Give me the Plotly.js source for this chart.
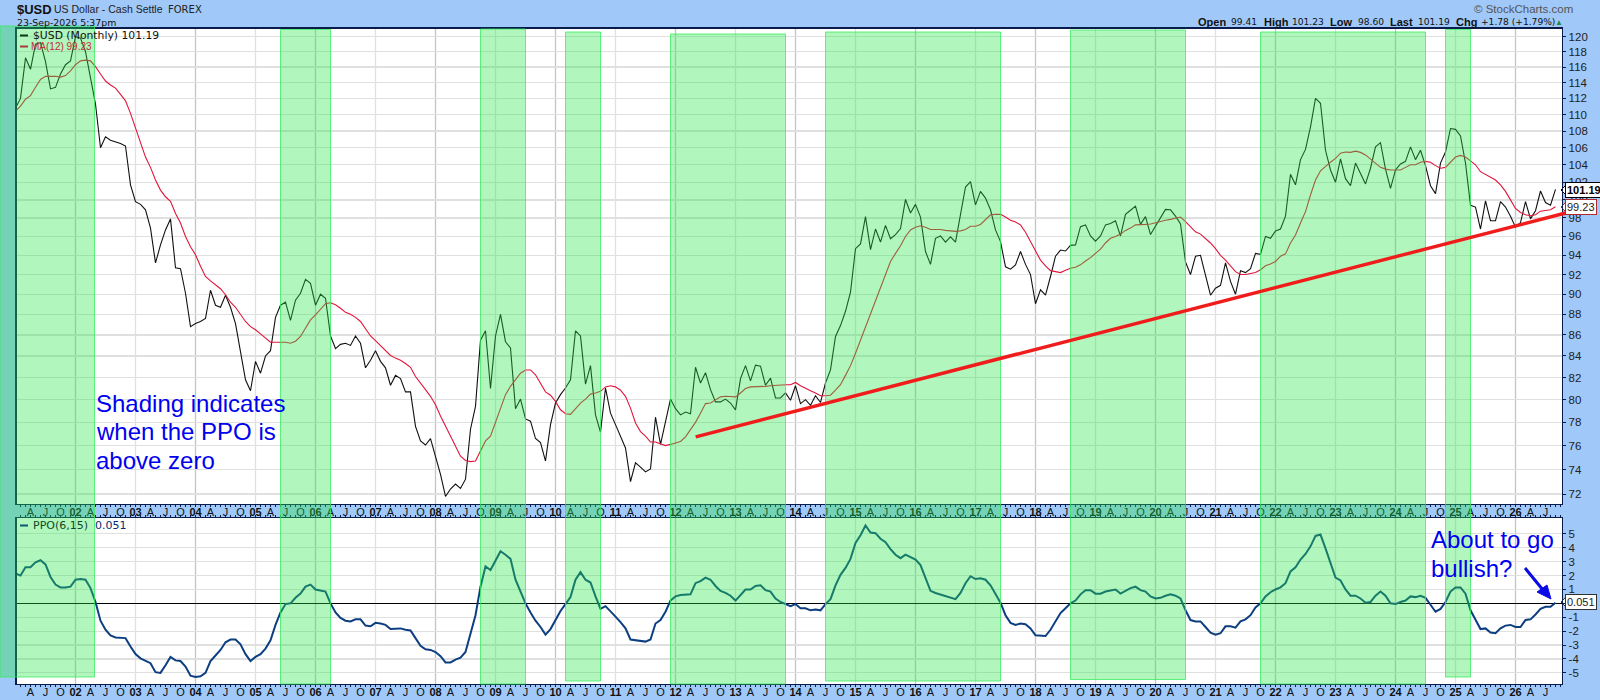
<!DOCTYPE html>
<html>
<head>
<meta charset="utf-8">
<script src="https://cdn.plot.ly/plotly-3.0.1.min.js"></script>
<style>html,body{margin:0;padding:0;background:#a0c8f8}</style>
</head>
<body>
<div id="chart" style="width:1600px;height:700px"></div>
<script>
// monthly closes, Jan 2001 to Sep 2026, one row per year
const usdClose = [
  110.8,112.0,117.2,115.7,119.0,119.2,116.7,113.2,113.4,115.1,116.3,116.8,
  120.0,119.8,118.0,114.7,111.3,106.0,107.3,106.9,106.7,106.5,106.2,101.7,
  99.8,99.5,98.9,96.9,93.2,95.1,96.7,97.9,92.7,92.6,90.1,86.8,
  87.1,87.3,87.6,90.4,88.9,88.7,89.9,88.7,87.1,84.3,81.8,80.8,
  83.5,82.4,84.0,84.5,87.7,88.9,89.2,87.4,89.4,90.1,91.5,91.1,
  88.9,90.0,89.6,85.9,84.7,85.1,85.2,85.0,85.9,85.2,82.9,83.6,
  84.5,83.5,82.9,81.3,82.2,81.9,80.7,80.7,77.65,76.4,76.05,76.6,
  75.1,73.6,71.8,72.4,72.8,72.45,73.2,77.4,79.4,85.5,86.4,81.0,
  85.9,88.0,85.35,84.75,79.2,80.05,78.3,78.1,76.6,76.25,74.7,77.8,
  79.7,80.45,81.05,81.8,86.4,85.9,81.4,83.1,78.65,77.15,81.05,78.8,
  77.8,76.8,75.8,73.0,74.55,74.2,73.8,74.05,78.45,76.1,78.1,80.05,
  79.2,78.65,78.9,78.75,82.95,81.5,82.45,80.9,79.8,79.8,80.05,79.7,
  79.1,81.9,83.1,81.7,83.15,83.05,81.3,81.95,80.15,80.15,80.6,79.95,
  81.25,79.65,80.0,79.5,80.35,79.75,81.5,82.7,85.85,86.9,88.3,90.2,
  94.7,95.2,98.15,94.6,96.8,95.4,97.2,95.75,96.2,96.85,100.05,98.55,
  99.5,98.1,94.4,93.05,95.8,96.05,95.4,95.95,95.4,98.4,101.45,102.05,
  99.45,100.95,100.2,98.9,96.7,95.45,92.8,92.55,93.0,94.4,93.05,92.0,
  89.05,90.45,89.9,91.8,93.9,94.55,94.45,95.05,95.1,97.05,97.25,96.05,
  95.5,96.05,97.25,97.4,97.7,96.05,98.4,98.85,99.3,97.3,98.15,96.2,
  97.1,97.9,98.95,98.9,98.2,97.35,93.3,92.0,93.9,94.0,91.9,89.9,
  90.6,90.9,93.2,91.3,90.0,92.4,92.2,92.6,94.2,94.1,96.0,95.8,
  96.6,96.8,98.2,102.9,101.7,104.6,105.8,108.5,112.0,111.4,105.7,103.4,
  102.0,104.7,102.4,101.6,104.2,102.9,101.8,103.6,106.1,106.6,103.5,101.3,
  103.4,104.1,104.4,106.1,104.6,105.7,103.9,101.6,100.7,104.2,105.5,108.3,
  108.2,107.4,104.2,99.4,99.2,96.8,99.9,97.7,97.7,99.8,99.2,98.2,
  97.0,97.5,99.8,97.9,98.8,101.0,99.7,99.4,101.19
];

const ma12 = [
  110.45,111.05,111.9,112.35,113.4,114.4,114.8,114.8,114.8,114.7,114.9,115.5,
  116.3,116.8,116.9,116.8,116.05,115.1,114.2,113.7,113.3,112.5,111.7,110.15,
  108.3,106.6,104.9,103.7,102.25,101.1,100.35,99.85,98.5,97.45,96.0,94.9,
  94.05,92.85,91.8,91.35,90.95,90.55,89.95,89.2,88.7,87.95,87.3,86.8,
  86.5,86.1,85.7,85.3,85.3,85.3,85.3,85.2,85.4,85.85,86.65,87.45,
  87.95,88.5,89.05,89.15,88.95,88.6,88.2,88.0,87.7,87.3,86.65,85.9,
  85.45,85.0,84.5,84.05,83.8,83.6,83.3,82.95,82.1,81.45,80.9,80.3,
  79.55,78.55,77.65,76.8,75.95,75.1,74.75,74.65,74.7,75.5,76.4,76.8,
  77.95,79.25,80.45,81.2,81.8,82.4,82.7,82.7,82.25,81.45,80.7,80.4,
  79.85,79.1,78.75,78.7,79.2,79.7,80.05,80.5,80.6,80.75,81.15,81.25,
  81.15,80.85,80.3,79.25,77.95,77.2,76.8,76.3,76.3,76.15,76.0,76.1,
  76.25,76.35,76.75,77.4,78.0,78.8,79.65,79.7,79.95,80.25,80.3,80.25,
  80.25,80.6,81.0,81.15,81.15,81.2,81.2,81.25,81.3,81.35,81.35,81.35,
  81.55,81.25,81.0,80.8,80.6,80.35,80.35,80.4,80.85,81.35,82.2,83.1,
  84.25,85.5,86.8,88.05,89.45,90.8,92.15,93.35,94.2,95.0,96.0,96.7,
  97.0,97.15,97.0,96.75,96.75,96.75,96.65,96.6,96.55,96.6,96.75,97.1,
  97.1,97.3,97.85,98.35,98.4,98.4,98.1,97.75,97.55,97.25,96.45,95.45,
  94.4,93.5,92.9,92.4,92.3,92.2,92.45,92.65,92.75,93.0,93.4,93.75,
  94.2,94.65,95.3,95.8,96.0,96.25,96.65,96.9,97.25,97.25,97.3,97.35,
  97.5,97.65,97.75,97.85,98.0,98.1,97.6,97.0,96.5,96.25,95.8,95.3,
  94.7,94.0,93.5,92.9,92.3,92.0,92.0,92.1,92.2,92.5,92.9,93.1,
  93.35,93.9,94.15,95.3,96.15,97.45,98.7,100.55,102.25,103.3,103.85,104.3,
  104.75,105.35,105.5,105.45,105.6,105.45,105.15,104.7,104.2,103.7,103.5,103.4,
  103.4,103.4,103.7,104.0,104.0,104.3,104.4,104.3,103.9,103.6,103.7,104.25,
  104.9,105.1,104.9,104.45,104.0,103.2,102.85,102.5,102.25,101.7,100.95,100.0,
  99.05,98.6,98.35,98.25,98.35,98.75,98.8,98.9,99.23
];

const ppo = [
  2.16,2.0,2.6,2.6,2.95,3.1,2.8,1.9,1.35,1.15,1.15,1.2,
  1.7,1.75,1.7,1.1,0.1,-1.25,-1.9,-2.3,-2.45,-2.5,-2.5,-3.1,
  -3.65,-3.95,-4.1,-4.3,-4.95,-5.0,-4.45,-3.85,-4.1,-4.15,-4.55,-5.2,
  -5.3,-5.25,-5.0,-4.15,-3.75,-3.35,-2.8,-2.6,-2.6,-2.95,-3.65,-4.15,
  -3.85,-3.65,-3.25,-2.65,-1.55,-0.65,-0.05,0,0.4,0.7,1.2,1.35,
  1.0,0.95,0.85,0,-0.65,-1.05,-1.25,-1.3,-1.15,-1.15,-1.6,-1.65,
  -1.4,-1.45,-1.55,-1.85,-1.85,-1.8,-1.9,-1.95,-2.5,-3.05,-3.3,-3.35,
  -3.5,-3.8,-4.25,-4.25,-4.05,-3.9,-3.5,-2.15,-0.85,1.2,2.65,2.4,
  3.05,3.75,3.5,3.2,1.7,0.9,0,-0.65,-1.25,-1.7,-2.25,-1.85,
  -1.2,-0.55,-0.05,0.45,1.7,2.25,1.7,1.5,0.5,-0.4,-0.2,-0.55,
  -0.95,-1.35,-1.8,-2.6,-2.65,-2.65,-2.75,-2.6,-1.45,-1.2,-0.6,0.2,
  0.5,0.6,0.65,0.65,1.45,1.6,1.85,1.7,1.25,0.9,0.75,0.55,
  0.2,0.6,1.0,1.0,1.25,1.3,0.95,0.85,0.35,0.1,-0.05,-0.2,
  -0.05,-0.35,-0.35,-0.5,-0.45,-0.5,-0.05,0.3,1.3,2.05,2.55,3.2,
  4.35,4.9,5.6,5.1,5.05,4.65,4.4,3.9,3.5,3.25,3.5,3.3,
  3.15,2.75,1.85,0.9,0.75,0.65,0.55,0.45,0.3,0.75,1.45,1.95,
  1.75,1.8,1.7,1.3,0.65,0.05,-0.85,-1.4,-1.55,-1.45,-1.5,-1.8,
  -2.3,-2.3,-2.35,-1.9,-1.25,-0.7,-0.35,0,0.2,0.65,0.95,0.95,
  0.7,0.7,0.85,0.95,1.0,0.7,0.9,1.1,1.2,0.95,0.85,0.5,
  0.35,0.4,0.55,0.65,0.55,0.35,-0.5,-1.2,-1.3,-1.3,-1.7,-2.1,
  -2.25,-2.15,-1.65,-1.65,-1.75,-1.3,-1.15,-0.85,-0.3,0,0.5,0.8,
  1.0,1.15,1.45,2.3,2.6,3.15,3.55,4.1,4.85,4.95,3.95,2.9,
  1.85,1.65,1.0,0.55,0.55,0.35,0.05,0.1,0.55,0.85,0.55,0,
  -0.05,0.1,0.2,0.5,0.45,0.55,0.4,-0.1,-0.6,-0.4,0.1,0.85,
  1.15,1.15,0.7,-0.5,-1.2,-1.85,-1.8,-2.1,-2.15,-1.8,-1.6,-1.55,
  -1.7,-1.7,-1.2,-1.15,-0.8,-0.4,-0.25,-0.25,0.051
];

// months since Jan 2001 where the PPO shading starts and stops
const shadeStart = [53, 93, 110, 131, 162, 211, 249, 286];
const shadeEnd   = [63, 102, 117, 154, 197, 234, 282, 291];
const trendValues = [76.75, 99.1];
const usdTicks = [120,118,116,114,112,110,108,106,104,102,100,98,96,94,92,90,88,86,84,82,80,78,76,74,72];
const ppoTicks = [5,4,3,2,1,-1,-2,-3,-4,-5];

const months = usdClose.map((v, i) => i);
const px = x => x / 1600;
const py = y => 1 - y / 700;
const navy = '#0a1c4c';
const shadeFill = 'rgba(40,230,70,0.36)';
const shadeLine = 'rgba(50,235,90,0.75)';

// x axis labels: A J O per quarter and the two digit year in bold
const tickVals = [], tickText = [];
for (let m = 0; m <= 309; m++) {
  tickVals.push(m);
  const mo = m % 12;
  if (m > 306) tickText.push('');
  else if (mo === 0) tickText.push('<b>' + String(1 + m / 12).padStart(2, '0') + '</b>');
  else if (mo === 3) tickText.push('A');
  else if (mo === 6) tickText.push('J');
  else if (mo === 9) tickText.push('O');
  else tickText.push('');
}

const traces = [
  {x: months, y: usdClose, mode: 'lines', line: {color: '#111111', width: 1.1}, xaxis: 'x', yaxis: 'y'},
  {x: months, y: ma12, mode: 'lines', line: {color: '#e0153a', width: 1.1}, xaxis: 'x', yaxis: 'y'},
  {x: months, y: ppo, mode: 'lines', line: {color: '#0d3f80', width: 2}, xaxis: 'x2', yaxis: 'y2'}
];

const shapes = [];

// yearly vertical grid, even years darker
for (let m = 12; m <= 300; m += 12) {
  const c = (m / 12) % 2 === 1 ? '#c4c4c4' : '#e0e0e0';
  shapes.push({type: 'line', layer: 'below', xref: 'x', yref: 'y domain', x0: m, x1: m, y0: 0, y1: 1, line: {color: c, width: 1.3}});
  shapes.push({type: 'line', layer: 'below', xref: 'x2', yref: 'y2 domain', x0: m, x1: m, y0: 0, y1: 1, line: {color: c, width: 1.3}});
}

// shaded blocks were drawn by hand on the original so tops and bottoms differ
const shadeTop = [29.5, 29, 32, 34, 32, 30, 32, 29.5];
const shadeBottom = [684, 684, 681, 684, 681, 679.5, 684, 677];
shapes.push({type: 'rect', layer: 'above', xref: 'paper', yref: 'paper', x0: px(0), x1: px(94.5), y0: py(26), y1: py(677),
  fillcolor: shadeFill, line: {color: shadeLine, width: 1}});
shadeStart.forEach((s, k) => {
  shapes.push({type: 'rect', layer: 'above', xref: 'x', yref: 'paper', x0: s, x1: shadeEnd[k], y0: py(shadeTop[k]), y1: py(shadeBottom[k]),
    fillcolor: shadeFill, line: {color: shadeLine, width: 1}});
});

// red trend line runs past the axis into the label margin
shapes.push({type: 'line', layer: 'above', xref: 'paper', yref: 'y', x0: px(695.7), x1: px(1585), y0: trendValues[0], y1: trendValues[1],
  line: {color: '#f01c1c', width: 3.4}});

// blue arrow on the ppo panel
shapes.push({type: 'line', layer: 'above', xref: 'paper', yref: 'paper', x0: px(1525), y0: py(568), x1: px(1543), y1: py(590),
  line: {color: '#0a0ae6', width: 3}});
shapes.push({type: 'path', layer: 'above', xref: 'paper', yref: 'paper', fillcolor: '#0a0ae6', line: {color: '#0a0ae6', width: 1},
  path: 'M' + px(1551) + ',' + py(599) + ' L' + px(1537) + ',' + py(592) + ' L' + px(1547) + ',' + py(585) + ' Z'});

// legend dashes
[[20, 28, 35.5, '#0b3a1a'], [20, 28, 46.5, '#a83a3a'], [20, 28, 525.5, '#0d5a70']].forEach(d => {
  shapes.push({type: 'line', layer: 'above', xref: 'paper', yref: 'paper', x0: px(d[0]), x1: px(d[1]), y0: py(d[2]), y1: py(d[2]), line: {color: d[3], width: 2}});
});

// little pointers on the last value boxes
[[190, '#000000'], [207, '#b02a2a'], [602, '#333333']].forEach(p => {
  shapes.push({type: 'path', layer: 'below', xref: 'paper', yref: 'paper', fillcolor: '#ffffff', line: {color: p[1], width: 1},
    path: 'M' + px(1561) + ',' + py(p[0]) + ' L' + px(1566) + ',' + py(p[0] - 5) + ' L' + px(1566) + ',' + py(p[0] + 5) + ' Z'});
});

function label(text, x, y, size, color, opts) {
  return Object.assign({
    text: text, xref: 'paper', yref: 'paper', x: px(x), y: py(y), xanchor: 'left', yanchor: 'middle',
    showarrow: false, font: {family: 'Liberation Sans', size: size, color: color}, borderpad: 0
  }, opts || {});
}
const dv = 'DejaVu Sans';
const dvLabel = (text, x, y, size, color) => label(text, x, y, size, color, {font: {family: dv, size: size, color: color}});

const annotations = [
  label('<b>$USD</b>', 16, 9.5, 13, '#111'),
  label('US Dollar - Cash Settle', 53, 9.5, 10.5, '#222'),
  dvLabel('FOREX', 167, 9.5, 10, '#222'),
  dvLabel('23-Sep-2026 5:37pm', 16, 22.5, 9.4, '#111'),
  label('\u00a9 StockCharts.com', 1473, 9.5, 11.5, '#555'),
  label('\u25b2', 1554, 23, 8, '#1e8a3a'),
  dvLabel('$USD (Monthly) 101.19', 31.5, 35.5, 10.8, '#111'),
  label('MA(12) 99.23', 30, 46.5, 10, '#c42a3a'),
  dvLabel('PPO(6,15)', 31.5, 525.5, 11, '#0d4a2a'),
  dvLabel('0.051', 94, 525.5, 11, '#0a2a70'),
  label('Shading indicates', 95, 403, 24, '#0000f0'),
  label('when the PPO is', 95, 431.5, 24, '#0000f0'),
  label('above zero', 95, 460, 24, '#0000f0'),
  label('About to go', 1430, 539, 24, '#0000f0'),
  label('bullish?', 1430, 568, 24, '#0000f0'),
  label('<b>101.19</b>', 1565, 190, 11, '#000', {bgcolor: '#fff', bordercolor: '#000', borderwidth: 1, borderpad: 1}),
  label('99.23', 1565, 207, 11, '#222', {bgcolor: '#fff', bordercolor: '#b02a2a', borderwidth: 1, borderpad: 1}),
  label('0.051', 1565, 602, 11, '#222', {bgcolor: '#fff', bordercolor: '#333', borderwidth: 1, borderpad: 1})
];

// header quote line
const quoteText = ['Open', '99.41', 'High', '101.23', 'Low', '98.60', 'Last', '101.19', 'Chg', '+1.78 (+1.79%)'];
const quoteLeft = [1197, 1230, 1262.5, 1290.5, 1329, 1356.5, 1388.5, 1416.5, 1455, 1480];
quoteText.forEach((t, k) => {
  annotations.push(k % 2 === 0
    ? label('<b>' + t + '</b>', quoteLeft[k], 22.5, 11, '#111')
    : dvLabel(t, quoteLeft[k], 22.5, 9.1, '#111'));
});

const xCommon = {
  range: [0.2, 309.3], tickmode: 'array', tickvals: tickVals, ticktext: tickText,
  tickfont: {family: 'Liberation Sans', size: 11, color: '#111'}, tickangle: 0, ticklabelstandoff: -5,
  ticks: 'outside', ticklen: 2, tickwidth: 1, tickcolor: navy,
  showgrid: false, zeroline: false, showline: true, linecolor: navy, linewidth: 1.3, mirror: true,
  domain: [px(16.5), px(1562)]
};
const yCommon = {
  side: 'right', tickmode: 'array', ticks: 'outside', ticklen: 3, tickwidth: 1, tickcolor: navy,
  tickfont: {family: 'Liberation Sans', size: 11.5, color: '#222'},
  showgrid: true, gridcolor: '#e0e0e0', gridwidth: 1.2, showline: true, linecolor: navy, linewidth: 1.3, mirror: true
};

const layout = {
  width: 1600, height: 700, margin: {l: 0, r: 0, t: 0, b: 0},
  paper_bgcolor: '#a0c8f8', plot_bgcolor: '#ffffff', showlegend: false, hovermode: false,
  xaxis: Object.assign({}, xCommon, {anchor: 'y'}),
  xaxis2: Object.assign({}, xCommon, {anchor: 'y2', mirror: 'allticks'}),
  yaxis: Object.assign({}, yCommon, {
    type: 'log', anchor: 'x', domain: [py(504), py(28.5)],
    range: [Math.log10(71.2), Math.log10(121.1)], tickvals: usdTicks, ticktext: usdTicks.map(String)
  }),
  yaxis2: Object.assign({}, yCommon, {
    anchor: 'x2', domain: [py(684), py(518)], range: [-5.8, 6.14],
    tickvals: ppoTicks.concat([0]), ticktext: ppoTicks.map(String).concat(['']),
    zeroline: true, zerolinecolor: '#000000', zerolinewidth: 1.2
  }),
  shapes: shapes, annotations: annotations
};

Plotly.newPlot('chart', traces, layout, {displayModeBar: false, staticPlot: true});
</script>
</body>
</html>
